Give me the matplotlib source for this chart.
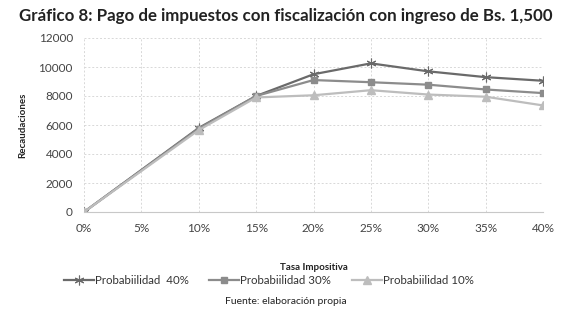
import matplotlib
matplotlib.use("Agg")
from matplotlib import pyplot as plt
from matplotlib.ticker import FuncFormatter

tasas = [0, 10, 15, 20, 25, 30, 35, 40]
prob_40 = [0, 5800, 8000, 9500, 10250, 9700, 9300, 9050]
prob_30 = [0, 5750, 8000, 9100, 8950, 8780, 8450, 8200]
prob_10 = [0, 5650, 7900, 8050, 8400, 8100, 7950, 7350]
nombres = ["Probabiilidad  40%", "Probabiilidad 30%", "Probabiilidad 10%"]

plt.rcParams['font.family'] = ['Lato', 'DejaVu Sans']

fig = plt.figure(figsize=(5.72, 3.16), dpi=100)
ax = fig.add_axes([84 / 572, 1 - 212 / 316, (543 - 84) / 572, (212 - 38) / 316])

ax.plot(tasas, prob_40, color='#6a6a6a', lw=1.6, marker=(6, 2, 0), ms=7, mew=0.8,
        label=nombres[0])
ax.plot(tasas, prob_30, color='#8c8c8c', lw=1.6, marker='s', ms=5,
        label=nombres[1])
ax.plot(tasas, prob_10, color='#bdbdbd', lw=1.6, marker='^', ms=5.5,
        label=nombres[2])

ax.set_xlim(0, 40)
ax.set_ylim(0, 12000)
ax.set_xticks(range(0, 41, 5))
ax.set_yticks(range(0, 12001, 2000))
ax.xaxis.set_major_formatter(FuncFormatter(lambda v, p: f"{int(v)}%"))
ax.tick_params(length=0, labelsize=8.5, labelcolor='#444444', pad=8)
ax.grid(True, color='#d8d8d8', lw=0.7, ls=(0, (2, 2)))
for s in ['top', 'right', 'left']:
    ax.spines[s].set_visible(False)
ax.spines['bottom'].set_color('#c8c8c8')
ax.set_axisbelow(True)

ax.set_xlabel("Tasa Impositiva", fontsize=7, fontweight='bold', color='#222222', labelpad=21)
ax.set_ylabel("Recaudaciones", fontsize=7, fontweight='bold', color='#222222', labelpad=8)

fig.text(0.5, 1 - 16 / 316, "Gráfico 8: Pago de impuestos con fiscalización con ingreso de Bs. 1,500",
         ha='center', va='center', fontsize=12.2, fontweight='bold', color='#222222')

fig.legend(loc='center', bbox_to_anchor=(0.47, 1 - 281 / 316), ncol=3, frameon=False,
           fontsize=8.3, handlelength=2.6, handletextpad=0.1, columnspacing=1.8,
           labelcolor='#333333')

fig.text(0.5, 1 - 302 / 316, "Fuente: elaboración propia", ha='center', va='center',
         fontsize=7.5, color='#222222')

fig.savefig('out.png', dpi=100, facecolor='white')
